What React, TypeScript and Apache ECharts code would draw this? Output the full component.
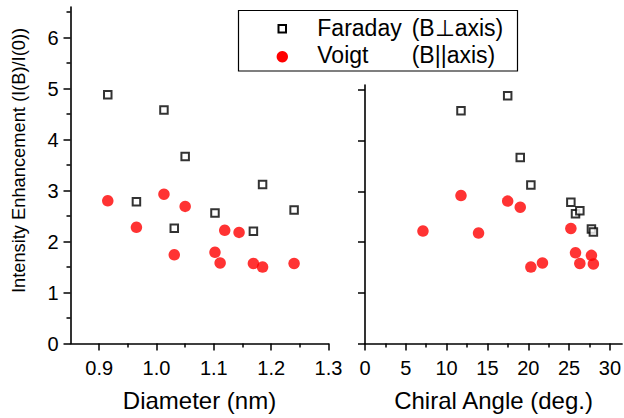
import React, { useEffect, useRef } from "react";
import * as echarts from "echarts";

// Left panel: intensity enhancement vs diameter (nm)
const faradayDiameter = [0.915, 0.965, 1.013, 1.031, 1.05, 1.102, 1.169, 1.185, 1.24];
const faradayByDiameter = [4.88, 2.78, 4.58, 2.26, 3.67, 2.56, 2.2, 3.12, 2.62];
const voigtDiameter = [0.915, 0.965, 1.013, 1.031, 1.05, 1.102, 1.111, 1.119, 1.144, 1.169, 1.185, 1.24];
const voigtByDiameter = [2.8, 2.28, 2.93, 1.74, 2.69, 1.79, 1.58, 2.22, 2.18, 1.57, 1.5, 1.57];

// Right panel: intensity enhancement vs chiral angle (deg.)
const faradayAngle = [11.76, 17.48, 19.02, 20.32, 25.22, 25.79, 26.32, 27.74, 27.98];
const faradayByAngle = [4.59, 4.89, 3.67, 3.13, 2.79, 2.56, 2.62, 2.26, 2.2];
const voigtAngle = [7.1, 11.76, 13.91, 17.48, 19.02, 20.32, 21.74, 25.22, 25.79, 26.32, 27.74, 27.98];
const voigtByAngle = [2.22, 2.92, 2.18, 2.81, 2.69, 1.51, 1.59, 2.27, 1.79, 1.58, 1.74, 1.57];

// Tick values
const diameterLabels = [0.9, 1.0, 1.1, 1.2, 1.3];
const diameterMinor = [0.95, 1.05, 1.15, 1.25];
const angleLabels = [0, 5, 10, 15, 20, 25, 30];
const angleMinor = [2.5, 7.5, 12.5, 17.5, 22.5, 27.5];
const yLabels = [0, 1, 2, 3, 4, 5, 6];
const yMinor = [0.5, 1.5, 2.5, 3.5, 4.5, 5.5, 6.5];
const yRightTicks = [0, 1, 2, 3, 4, 5];

const FONT = "'Liberation Sans', Arial, Helvetica, sans-serif";
const zip = (xs: number[], ys: number[]) => xs.map((x, i) => [x, ys[i]]);

export default function App() {
  const ref = useRef<HTMLDivElement>(null);
  useEffect(() => {
    if (!ref.current) return;
    const chart = echarts.init(ref.current, null, { renderer: "svg" });
    const line = { show: true, onZero: false, lineStyle: { color: "#000", width: 1.6 } };
    const majorTick = (vals: number[]) => ({
      show: true, inside: false, length: 7, customValues: vals,
      lineStyle: { color: "#000", width: 1.5 },
    });
    const minorAxisTick = (vals: number[]) => ({
      show: true, inside: false, length: 4, customValues: vals,
      lineStyle: { color: "#000", width: 1.5 },
    });
    const labelStyle = { color: "#000", fontSize: 20, fontFamily: FONT };
    const option: any = {
      animation: false,
      backgroundColor: "#fff",
      grid: [
        { left: 70.5, top: 7.1, width: 258, height: 336.4 },
        { left: 365, top: 85, width: 259, height: 258.6 },
      ],
      xAxis: [
        {
          type: "value", gridIndex: 0, position: "bottom", min: 0.85, max: 1.3,
          axisLine: line, axisTick: majorTick(diameterLabels), splitLine: { show: false },
          axisLabel: { ...labelStyle, margin: 14, customValues: diameterLabels, formatter: (v: number) => v.toFixed(1) },
          name: "Diameter (nm)", nameLocation: "middle", nameGap: 45,
          nameTextStyle: { color: "#000", fontSize: 24, fontFamily: FONT },
        },
        {
          type: "value", gridIndex: 0, position: "bottom", min: 0.85, max: 1.3,
          axisLine: { show: false }, axisTick: minorAxisTick(diameterMinor),
          axisLabel: { show: false }, splitLine: { show: false },
        },
        {
          type: "value", gridIndex: 1, position: "bottom", min: 0, max: 31.5,
          axisLine: line, axisTick: majorTick(angleLabels), splitLine: { show: false },
          axisLabel: { ...labelStyle, margin: 14, customValues: angleLabels },
          name: "Chiral Angle (deg.)", nameLocation: "middle", nameGap: 45,
          nameTextStyle: { color: "#000", fontSize: 24, fontFamily: FONT },
        },
        {
          type: "value", gridIndex: 1, position: "bottom", min: 0, max: 31.5,
          axisLine: { show: false }, axisTick: minorAxisTick(angleMinor),
          axisLabel: { show: false }, splitLine: { show: false },
        },
      ],
      yAxis: [
        {
          type: "value", gridIndex: 0, position: "left", min: 0, max: 6.6,
          axisLine: line, axisTick: majorTick(yLabels), splitLine: { show: false },
          axisLabel: { ...labelStyle, margin: 12, customValues: yLabels },
        },
        {
          type: "value", gridIndex: 0, position: "left", min: 0, max: 6.6,
          axisLine: { show: false }, axisTick: minorAxisTick(yMinor),
          axisLabel: { show: false }, splitLine: { show: false },
        },
        {
          type: "value", gridIndex: 1, position: "left", min: 0, max: 5.1,
          axisLine: line, axisTick: majorTick(yRightTicks), splitLine: { show: false },
          axisLabel: { show: false },
        },
      ],
      series: [
        {
          type: "scatter", name: "Faraday (B⊥axis)", xAxisIndex: 0, yAxisIndex: 0,
          data: zip(faradayDiameter, faradayByDiameter), symbol: "rect", symbolSize: 7.5,
          itemStyle: { color: "#fff", borderColor: "#000", borderWidth: 2 },
        },
        {
          type: "scatter", name: "Voigt (B||axis)", xAxisIndex: 0, yAxisIndex: 0,
          data: zip(voigtDiameter, voigtByDiameter), symbol: "circle", symbolSize: 11.5,
          itemStyle: { color: "#ff0000" },
        },
        {
          type: "scatter", name: "Faraday (B⊥axis)", xAxisIndex: 2, yAxisIndex: 2,
          data: zip(faradayAngle, faradayByAngle), symbol: "rect", symbolSize: 7.5,
          itemStyle: { color: "#fff", borderColor: "#000", borderWidth: 2 },
        },
        {
          type: "scatter", name: "Voigt (B||axis)", xAxisIndex: 2, yAxisIndex: 2,
          data: zip(voigtAngle, voigtByAngle), symbol: "circle", symbolSize: 11.5,
          itemStyle: { color: "#ff0000" },
        },
      ],
      graphic: [
        {
          type: "text", x: 18, y: 160.5, rotation: Math.PI / 2,
          style: {
            text: "Intensity Enhancement (I(B)/I(0))", fill: "#000", fontSize: 18.3,
            fontFamily: FONT, align: "center", verticalAlign: "middle",
          },
        },
        {
          type: "group", z: 100,
          children: [
            { type: "rect", shape: { x: 238.5, y: 10.5, width: 279, height: 60.5 }, style: { fill: "#fff", stroke: "#000", lineWidth: 1.2 } },
            { type: "rect", shape: { x: 278.5, y: 25, width: 7.5, height: 7.5 }, style: { fill: "#fff", stroke: "#000", lineWidth: 2 } },
            { type: "circle", shape: { cx: 282.3, cy: 56.7, r: 5.7 }, style: { fill: "#ff0000" } },
            { type: "text", x: 317.3, y: 27.7, style: { text: "Faraday", fill: "#000", fontSize: 23, fontFamily: FONT, verticalAlign: "middle" } },
            { type: "text", x: 411.7, y: 27.7, style: { text: "(B⊥axis)", fill: "#000", fontSize: 23, fontFamily: FONT, verticalAlign: "middle" } },
            { type: "text", x: 317.3, y: 55.3, style: { text: "Voigt", fill: "#000", fontSize: 23, fontFamily: FONT, verticalAlign: "middle" } },
            { type: "text", x: 411.7, y: 55.3, style: { text: "(B||axis)", fill: "#000", fontSize: 23, fontFamily: FONT, verticalAlign: "middle" } },
          ],
        },
      ],
    };
    chart.setOption(option);
    return () => chart.dispose();
  }, []);
  return (
    <div
      ref={ref}
      style={{ position: "absolute", left: 0, top: 0, width: 624, height: 418, background: "#fff" }}
    />
  );
}
